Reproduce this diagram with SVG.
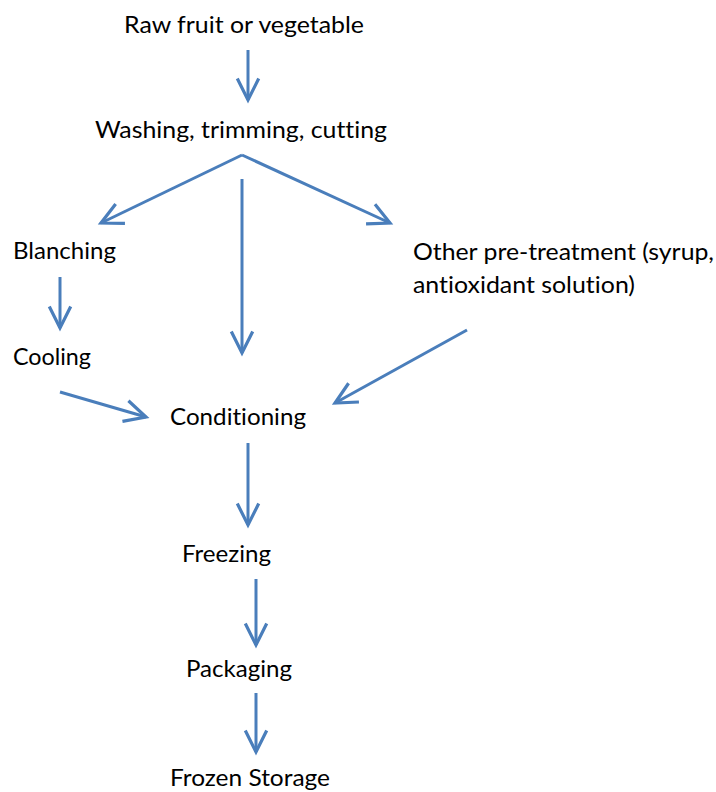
<svg xmlns="http://www.w3.org/2000/svg" width="716" height="792" viewBox="0 0 716 792">
  <style>
    .lbl { font-family: Lato, "Open Sans", "Liberation Sans", sans-serif; font-size: 23px; fill: #000000; font-variant-ligatures: none; }
    .con line { stroke: #4A7EBB; stroke-width: 3; fill: none; marker-end: url(#arrow); }
  </style>
  <defs>
    <marker id="arrow" markerUnits="userSpaceOnUse" markerWidth="30" markerHeight="30" viewBox="-24 -14 28 28" refX="0" refY="0" orient="auto">
      <path d="M-20,-10 L0,0 L-20,10" fill="none" stroke="#4A7EBB" stroke-width="3" stroke-linejoin="miter"/>
    </marker>
  </defs>
  <rect width="716" height="792" fill="#ffffff"/>

  <g id="connectors" class="con">
    <line x1="248" y1="50" x2="248" y2="100"/>
    <line x1="242" y1="155" x2="101" y2="223"/>
    <line x1="242" y1="155" x2="390" y2="223"/>
    <line x1="242" y1="179" x2="242" y2="353"/>
    <line x1="60" y1="277" x2="60" y2="328"/>
    <line x1="60" y1="392" x2="146" y2="417"/>
    <line x1="467" y1="330" x2="335" y2="403"/>
    <line x1="248" y1="443" x2="248" y2="525"/>
    <line x1="256" y1="579" x2="256" y2="645"/>
    <line x1="256" y1="693" x2="256" y2="752"/>
  </g>

  <g id="node-raw"><text class="lbl" x="124" y="33" textLength="240" lengthAdjust="spacingAndGlyphs">Raw fruit or vegetable</text></g>
  <g id="node-washing"><text class="lbl" x="95" y="138" textLength="292" lengthAdjust="spacingAndGlyphs">Washing, trimming, cutting</text></g>
  <g id="node-blanching"><text class="lbl" x="13" y="259" textLength="103" lengthAdjust="spacingAndGlyphs">Blanching</text></g>
  <g id="node-other">
    <text class="lbl" x="413" y="260" textLength="301" lengthAdjust="spacingAndGlyphs">Other pre-treatment (syrup,</text>
    <text class="lbl" x="413" y="293" textLength="222" lengthAdjust="spacingAndGlyphs">antioxidant solution)</text>
  </g>
  <g id="node-cooling"><text class="lbl" x="13" y="365" textLength="78" lengthAdjust="spacingAndGlyphs">Cooling</text></g>
  <g id="node-conditioning"><text class="lbl" x="170" y="425" textLength="136" lengthAdjust="spacingAndGlyphs">Conditioning</text></g>
  <g id="node-freezing"><text class="lbl" x="182" y="562" textLength="89" lengthAdjust="spacingAndGlyphs">Freezing</text></g>
  <g id="node-packaging"><text class="lbl" x="186" y="677" textLength="106" lengthAdjust="spacingAndGlyphs">Packaging</text></g>
  <g id="node-frozen"><text class="lbl" x="170" y="786" textLength="160" lengthAdjust="spacingAndGlyphs">Frozen Storage</text></g>
</svg>
